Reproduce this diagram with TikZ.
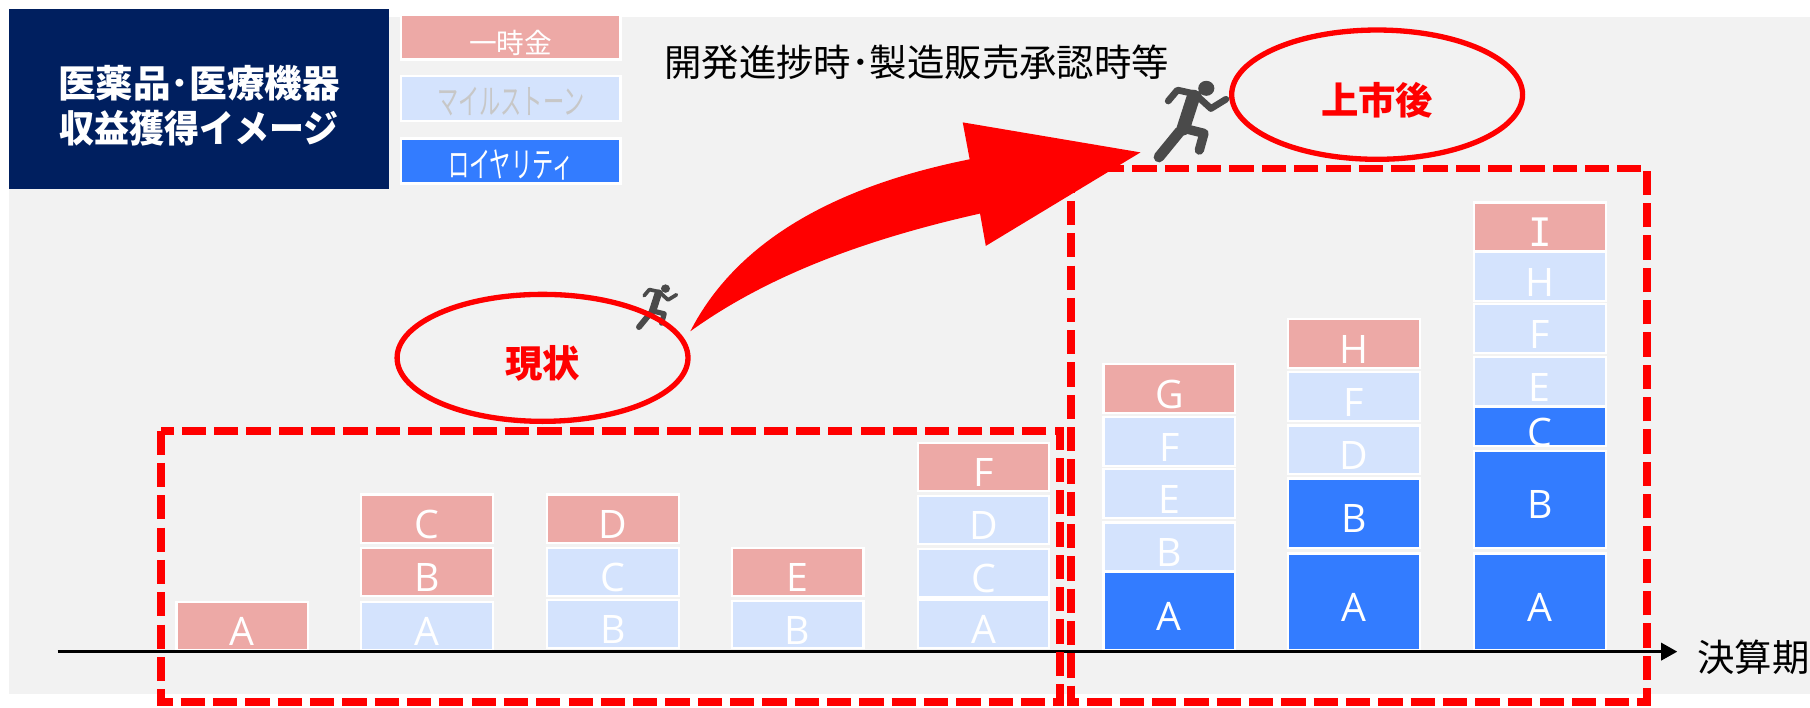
\documentclass[tikz,border=0pt]{standalone}
\usepackage{fontspec}
\usepackage{graphicx}
\setmainfont{Open Sans}
\newfontfamily\jp{Noto Sans CJK JP}
\newfontfamily\monoI{DejaVu Sans Mono}
\usetikzlibrary{arrows.meta}
\definecolor{pagegray}{HTML}{F2F2F2}
\definecolor{navybox}{HTML}{001F5F}
\definecolor{pinkc}{HTML}{EDA9A6}
\definecolor{paleb}{HTML}{D4E3FD}
\definecolor{royalb}{HTML}{337CFF}
\definecolor{runnerc}{HTML}{4A4A4A}
\definecolor{vivid}{HTML}{FF0000}
\newcommand{\boxlab}[1]{\smash{\raisebox{-8.5pt}{#1}}}
\newcommand{\leglab}[1]{\smash{\raisebox{-7pt}{#1}}}
% name, centre x, top, bottom, colour, letter
\newcommand{\stk}[6]{\node[barbox,fill=#5,minimum height={(#4-#3)*0.5pt}] (#1) at (#2,{(#3+#4)/2-0.5}) {\boxlab{#6}};}
% shift x, shift y, scale, stroke width
\newcommand{\runner}[4]{%
\begin{scope}[shift={(#1,#2)},scale=#3,runnerc,line cap=round,line join=round,line width=#4]
\fill (0,0) ellipse (7 and 6.5);
\draw[line width={2*#4}] (-11,7) -- (-20,35);
\draw (-33,11) -- (-25,1.5) -- (-7,5.5);
\draw (-7,7.5) -- (4,17.5) -- (17,9.5);
\draw[line width={1.6*#4}] (-23,37.5) -- (-41,59.5);
\draw[line width={1.4*#4}] (-20,34.5) -- (-2,39) -- (-6,53.5);
\end{scope}}
\tikzset{
  barbox/.style={draw=white,line width=1pt,minimum width=57pt,inner sep=0pt,text=white,font=\fontsize{17}{17}\selectfont},
  legbox/.style={draw=white,line width=1pt,minimum width=95pt,minimum height=19.5pt,inner sep=0pt,font=\jp\fontsize{12}{12}\selectfont},
  dashbox/.style={draw=vivid,line width=3.4pt,dash pattern=on 10.5pt off 3.5pt},
  heading/.style={inner sep=0pt,font=\jp\fontsize{16.2}{16.2}\selectfont},
  ovaltext/.style={text=vivid,inner sep=0pt,font=\jp\bfseries\fontsize{16.2}{16.2}\selectfont}
}
\begin{document}
\begin{tikzpicture}[x=0.5pt,y=-0.5pt]
\useasboundingbox (0,0) rectangle (1568,612.5);
\fill[white] (0,0) rectangle (1568,612.5);
\fill[pagegray] (8,15) rectangle (1568,601);
\node[fill=navybox,minimum width=164.5pt,minimum height=78pt,inner sep=0pt,align=center,text=white,font=\jp\bfseries\fontsize{16.3}{19.5}\selectfont] (title) at (172.5,86) {\rule{0pt}{19.5pt}医薬品･医療機器\\\scalebox{.93}[1]{収益獲得イメージ}};
\node[legbox,fill=pinkc,text=white] (leg1) at (442.5,32) {\leglab{一時金}};
\node[legbox,fill=paleb,text=black!22] (leg2) at (442.5,85.5) {\leglab{\scalebox{.68}[1.12]{\fontsize{13.5}{13.5}\selectfont マイルストーン}}};
\node[legbox,fill=royalb,text=white] (leg3) at (442.5,139.5) {\leglab{\scalebox{.68}[1.12]{\fontsize{13.5}{13.5}\selectfont ロイヤリティ}}};
\node[heading,anchor=west] (phase) at (575,54) {開発進捗時･製造販売承認時等};
% stacks
\stk{a1}{210}{522}{564}{pinkc}{A}
\stk{b1}{370}{522}{564}{paleb}{A}
\stk{b2}{370}{475}{517}{pinkc}{B}
\stk{b3}{370}{429}{471}{pinkc}{C}
\stk{c1}{531}{520}{562}{paleb}{B}
\stk{c2}{531}{475}{517}{paleb}{C}
\stk{c3}{531}{429}{471}{pinkc}{D}
\stk{d1}{691}{521}{562}{paleb}{B}
\stk{d2}{691}{475}{517}{pinkc}{E}
\stk{e1}{852}{520}{562}{paleb}{A}
\stk{e2}{852}{476}{518}{paleb}{C}
\stk{e3}{852}{430}{472}{paleb}{D}
\stk{e4}{852}{384}{426}{pinkc}{F}
\stk{f1}{1013}{496}{564}{royalb}{A}
\stk{f2}{1013}{453}{495}{paleb}{B}
\stk{f3}{1013}{407}{449}{paleb}{E}
\stk{f4}{1013}{362}{404}{paleb}{F}
\stk{f5}{1013}{316}{358}{pinkc}{G}
\stk{g1}{1173}{480}{564}{royalb}{A}
\stk{g2}{1173}{415}{475}{royalb}{B}
\stk{g3}{1173}{369}{411}{paleb}{D}
\stk{g4}{1173}{323}{365}{paleb}{F}
\stk{g5}{1173}{277}{319}{pinkc}{H}
\stk{h1}{1334}{480}{564}{royalb}{A}
\stk{h2}{1334}{391}{475}{royalb}{B}
\stk{h3}{1334}{353}{387}{royalb}{C}
\stk{h4}{1334}{310}{352}{paleb}{E}
\stk{h5}{1334}{264}{306}{paleb}{F}
\stk{h6}{1334}{219}{261}{paleb}{H}
\stk{h7}{1334}{176}{218}{pinkc}{\monoI I}
% axis
\coordinate (axstart) at (50,564.5);
\coordinate (axend) at (1453,564.5);
\node[heading,anchor=west] (axlab) at (1470,569) {決算期};
\draw[black,line width=1.2pt,-{Triangle[length=7pt,width=7.5pt]}] (axstart) -- (axend);
% dashed frames
\draw[dashbox] (139.5,373) rectangle (918,608);
\draw[dashbox] (928,146) rectangle (1427,608);
% runners
\runner{576.5}{250}{0.56}{1.6pt}
\runner{1045}{76.5}{1}{2.9pt}
% ovals
\draw[draw=vivid,line width=2.3pt] (470,310) ellipse (126 and 55);
\draw[draw=vivid,line width=2.3pt] (1193,82) ellipse (126 and 56);
\node[ovaltext] (now) at (470,315) {現状};
\node[ovaltext] (post) at (1193,87) {上市後};
% big arrow
\fill[vivid] (598,287) .. controls (640,205) and (730,160) .. (840,138)
  -- (834,106) -- (988,132) -- (854,213) -- (849,185)
  .. controls (760,205) and (670,235) .. (598,287) -- cycle;
\end{tikzpicture}
\end{document}
